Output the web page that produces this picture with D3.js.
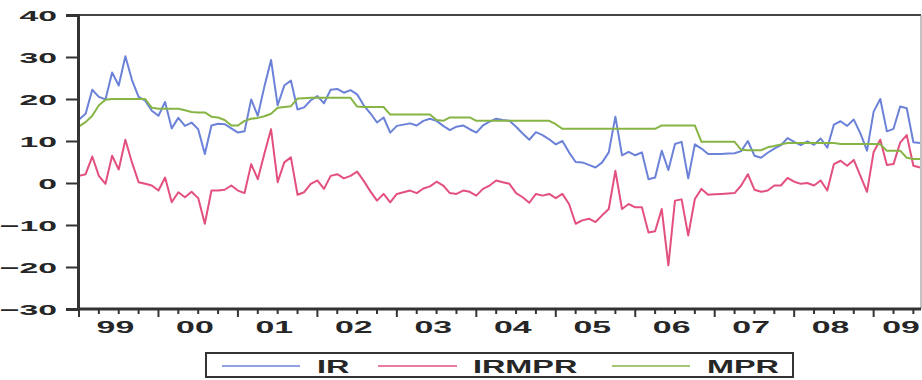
<!DOCTYPE html>
<html>
<head>
<meta charset="utf-8">
<script src="https://cdn.jsdelivr.net/npm/d3@7"></script>
<style>
  html, body { margin: 0; padding: 0; background: #fff; }
  svg { display: block; }
  text { font-family: "Liberation Sans", Arial, sans-serif; font-weight: bold; fill: #262626; }
</style>
</head>
<body>
<div id="chart"></div>
<script>
// monthly observations, 1999M1 .. 2009M8
const yearLabels = ['99', '00', '01', '02', '03', '04', '05', '06', '07', '08', '09'];
const yTicks = [-30, -20, -10, 0, 10, 20, 30, 40];

const IR = [
  15.1, 16.5, 22.2, 20.5, 19.9, 26.3, 23.2, 30.2, 24.5, 20.5, 19.6, 17.2,
  16.0, 19.3, 13.0, 15.5, 13.6, 14.4, 12.8, 6.9, 13.7, 14.1, 14.0, 13.0,
  12.0, 12.3, 19.9, 16.0, 23.0, 29.3, 18.5, 23.2, 24.4, 17.5, 18.0, 19.7,
  20.7, 19.0, 22.2, 22.4, 21.5, 22.1, 21.1, 18.5, 16.6, 14.4, 15.6, 12.0,
  13.6, 13.9, 14.2, 13.7, 14.8, 15.3, 14.8, 13.6, 12.6, 13.4, 13.7, 12.8,
  12.0, 13.7, 14.6, 15.3, 15.0, 14.8, 13.4, 11.8, 10.3, 12.1, 11.4, 10.4,
  9.2, 10.0, 7.3, 5.0, 4.9, 4.3, 3.7, 4.9, 7.3, 15.8, 6.6, 7.4,
  6.6, 7.3, 0.9, 1.3, 7.7, 3.1, 9.3, 9.8, 1.1, 9.2, 8.2, 6.9,
  6.9, 6.9, 7.0, 7.1, 7.6, 10.0, 6.5, 6.0, 7.2, 8.2, 9.0, 10.7,
  9.8, 9.0, 9.9, 9.1, 10.6, 8.4, 13.9, 14.7, 13.6, 15.1, 11.8, 7.7,
  17.0, 20.0, 12.3, 12.9, 18.2, 17.8, 9.7, 9.5
];

const IRMPR = [
  1.7, 2.1, 6.3, 1.7, -0.2, 6.5, 3.2, 10.3, 4.9, 0.2, -0.2, -0.6,
  -1.8, 1.3, -4.6, -2.2, -3.4, -2.1, -3.6, -9.7, -1.8, -1.8, -1.6, -0.6,
  -1.8, -2.4, 4.5, 0.9, 7.0, 12.8, 0.2, 4.9, 6.1, -2.8, -2.2, -0.2,
  0.6, -1.4, 1.7, 2.1, 1.1, 1.7, 2.7, 0.5, -2.0, -4.2, -2.6, -4.6,
  -2.6, -2.2, -1.8, -2.4, -1.3, -0.8, 0.3, -0.6, -2.4, -2.6, -1.8, -2.1,
  -3.0, -1.4, -0.6, 0.6, 0.2, -0.2, -2.4, -3.4, -4.7, -2.6, -3.0, -2.6,
  -3.6, -2.6, -5.0, -9.7, -8.9, -8.5, -9.3, -7.7, -6.2, 2.9, -6.2, -5.0,
  -5.8, -5.8, -11.8, -11.5, -6.2, -19.6, -4.2, -3.9, -12.5, -3.8, -1.4, -2.8,
  -2.7, -2.6, -2.5, -2.4, -0.6, 2.1, -1.6, -2.1, -1.8, -0.6, -0.6, 1.2,
  0.3, -0.2, 0.0, -0.6, 0.6, -1.8, 4.5, 5.3, 4.1, 5.5, 1.7, -2.1,
  7.4, 10.3, 4.3, 4.5, 9.6, 11.4, 4.1, 3.7
];

const MPR = [
  13.5, 14.5, 16.0, 18.5, 19.8, 20.0, 20.0, 20.0, 20.0, 20.0, 20.0, 17.9,
  17.7, 17.7, 17.7, 17.7, 17.3, 16.9, 16.8, 16.8, 15.8, 15.6, 15.0, 13.7,
  13.7, 14.8, 15.3, 15.5, 15.9, 16.5, 17.9, 18.1, 18.3, 20.1, 20.2, 20.3,
  20.3, 20.3, 20.3, 20.3, 20.3, 20.3, 18.2, 18.1, 18.1, 18.1, 18.1, 16.3,
  16.3, 16.3, 16.3, 16.3, 16.3, 16.3, 15.0, 14.8, 15.6, 15.6, 15.6, 15.6,
  14.8, 14.8, 14.8, 14.8, 14.8, 14.8, 14.8, 14.8, 14.8, 14.8, 14.8, 14.8,
  14.0, 12.9, 12.9, 12.9, 12.9, 12.9, 12.9, 12.9, 12.9, 12.9, 12.9, 12.9,
  12.9, 12.9, 12.9, 12.9, 13.7, 13.7, 13.7, 13.7, 13.7, 13.7, 9.8, 9.8,
  9.8, 9.8, 9.8, 9.8, 7.9, 7.8, 7.8, 7.8, 8.5, 8.8, 9.2, 9.5,
  9.5, 9.5, 9.5, 9.5, 9.5, 9.5, 9.5, 9.3, 9.3, 9.3, 9.3, 9.3,
  9.3, 9.2, 7.7, 7.7, 7.7, 6.0, 5.7, 5.7
];

const series = [
  { name: 'IR', values: IR, color: '#6c82d8' },
  { name: 'IRMPR', values: IRMPR, color: '#e4507e' },
  { name: 'MPR', values: MPR, color: '#86b545' }
];

const W = 922, H = 380;
const plotL = 78, plotR = 921, plotT = 15, plotB = 309;

const svg = d3.select('#chart').append('svg')
  .attr('width', W)
  .attr('height', H);

const x = d3.scaleLinear().domain([0, IR.length - 1]).range([plotL + 1, plotR - 1]);
const y = d3.scaleLinear().domain([-30, 40]).range([plotB, plotT]);

// the printed figure is stretched sideways, so text gets a horizontal scale
function wideText(g, tx, ty, sx, size, anchor, str) {
  return g.append('text')
    .attr('transform', 'translate(' + tx + ',' + ty + ') scale(' + sx + ',1)')
    .attr('text-anchor', anchor)
    .attr('font-size', size)
    .text(str);
}

// frame: top and right edges
svg.append('line').attr('x1', plotL).attr('x2', plotR).attr('y1', plotT).attr('y2', plotT)
  .attr('stroke', '#444').attr('stroke-width', 2);
svg.append('line').attr('x1', plotR).attr('x2', plotR).attr('y1', plotT).attr('y2', plotB)
  .attr('stroke', '#888').attr('stroke-width', 1);

// lines
const line = d3.line().x((d, i) => x(i)).y(d => y(d));
svg.append('g').selectAll('path')
  .data(series)
  .enter().append('path')
  .attr('d', d => line(d.values))
  .attr('fill', 'none')
  .attr('stroke', d => d.color)
  .attr('stroke-width', 2)
  .attr('stroke-linejoin', 'round');

// y axis (labels drawn separately)
const yAxis = svg.append('g')
  .attr('transform', 'translate(' + plotL + ',0)')
  .call(d3.axisLeft(y).tickValues(yTicks).tickSize(12).tickFormat(''));
yAxis.select('.domain').attr('stroke', '#333').attr('stroke-width', 3);
yAxis.selectAll('.tick line').attr('stroke', '#333').attr('stroke-width', 2);
const yLab = svg.append('g');
yTicks.forEach(v => wideText(yLab, 57, y(v) + 5.5, 2.25, 15, 'end', d3.format('d')(v)));

// x axis: quarterly ticks, year ticks longer
const xAxis = svg.append('g').attr('transform', 'translate(0,' + plotB + ')');
xAxis.append('line').attr('x1', plotL - 1).attr('x2', plotR).attr('y1', 0).attr('y2', 0)
  .attr('stroke', '#333').attr('stroke-width', 3);
const qIdx = d3.range(0, IR.length, 3);
xAxis.selectAll('line.tk')
  .data(qIdx)
  .enter().append('line')
  .attr('class', 'tk')
  .attr('x1', d => x(d)).attr('x2', d => x(d))
  .attr('y1', 0).attr('y2', d => d % 12 === 0 ? 8 : 5)
  .attr('stroke', '#333').attr('stroke-width', 2);
yearLabels.forEach((s, i) => {
  // keep the last label inside the picture
  const cx = Math.min(x(i * 12 + 5.5), W - 21);
  wideText(xAxis, cx, 24, 2.05, 16.5, 'middle', s);
});

// legend
const lg = svg.append('g');
lg.append('rect').attr('x', 206).attr('y', 353).attr('width', 587).attr('height', 24)
  .attr('fill', '#fff').attr('stroke', '#333').attr('stroke-width', 2);
const legendPos = [
  { x1: 222, x2: 300, tx: 317 },
  { x1: 378, x2: 457, tx: 473 },
  { x1: 612, x2: 690, tx: 707 }
];
series.forEach((s, i) => {
  const p = legendPos[i];
  lg.append('line').attr('x1', p.x1).attr('x2', p.x2).attr('y1', 366).attr('y2', 366)
    .attr('stroke', s.color).attr('stroke-width', 1.5);
  wideText(lg, p.tx, 373, 1.8, 18, 'start', s.name);
});
</script>
</body>
</html>
